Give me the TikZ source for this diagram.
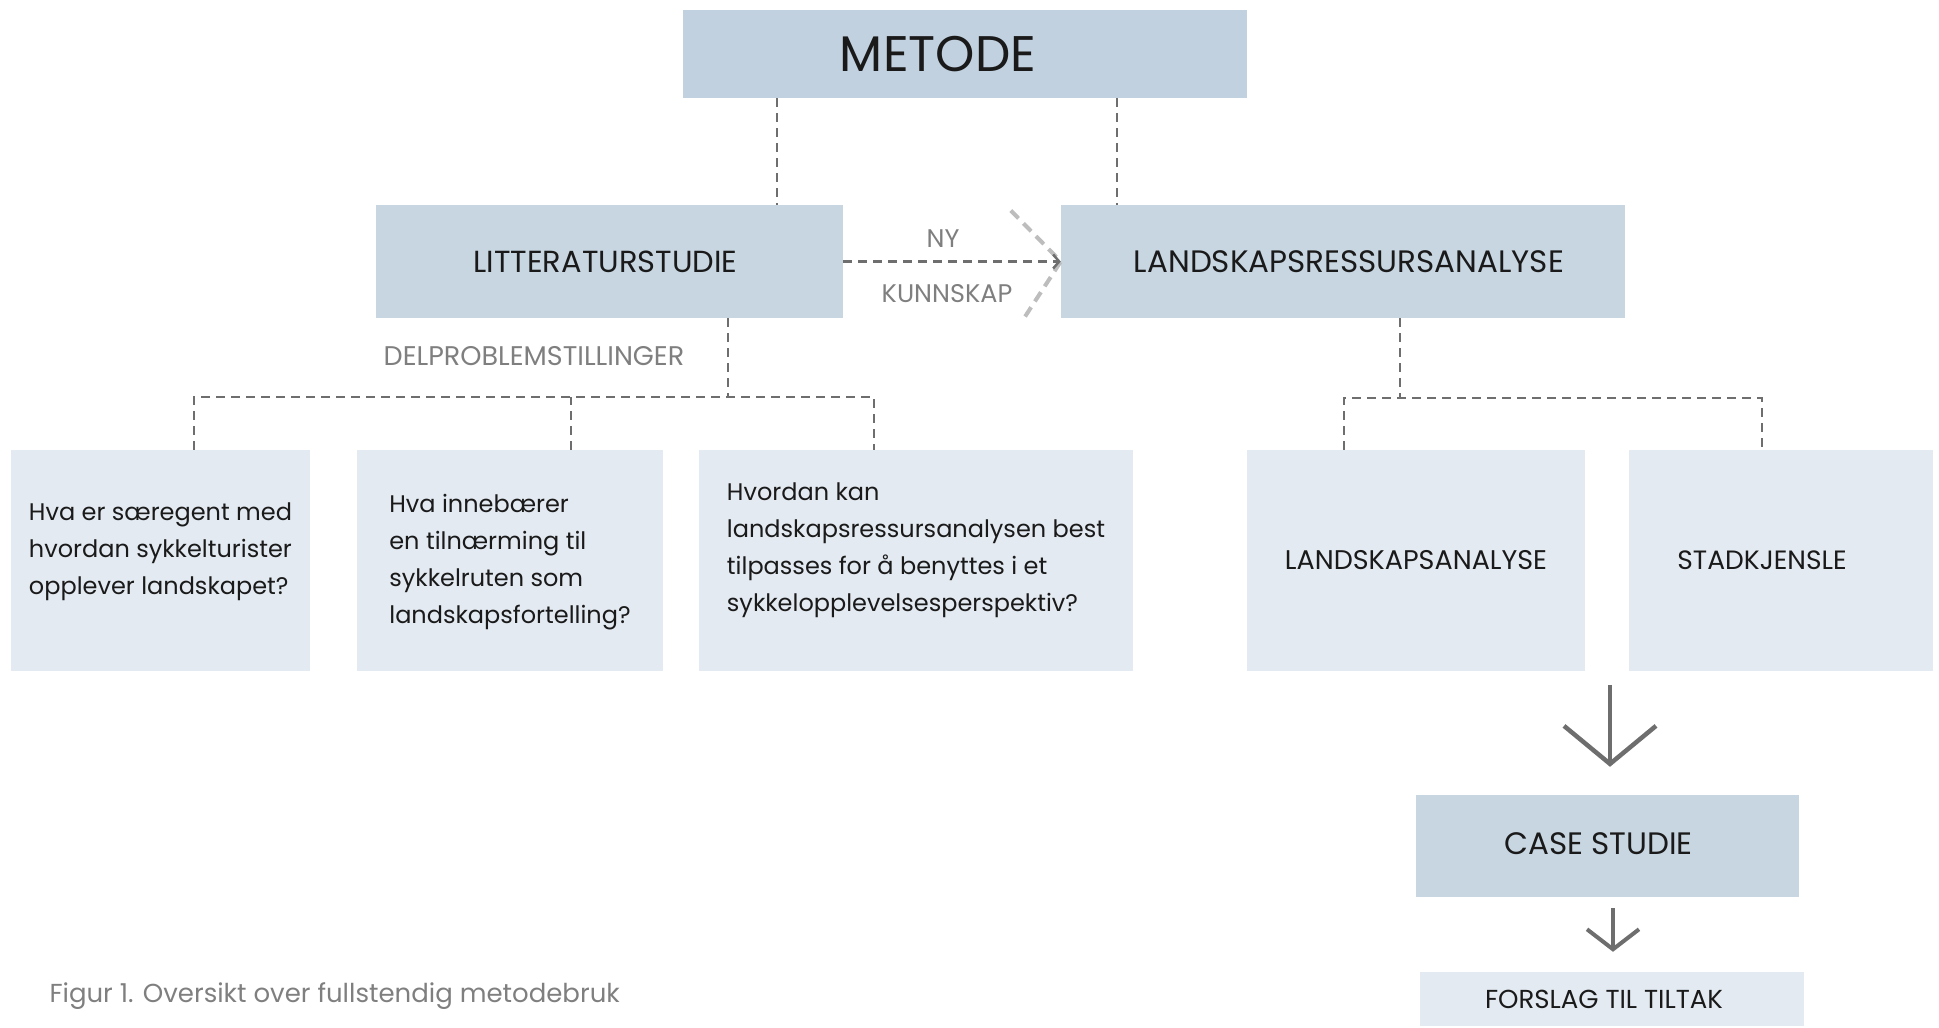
\documentclass[tikz,border=0pt]{standalone}
\usepackage{fontspec}
\setmainfont{Poppins}
\usepackage{tikz}
\usetikzlibrary{calc,arrows.meta}
\definecolor{headblue}{HTML}{C1D1E0}
\definecolor{boxblue}{HTML}{C8D6E2}
\definecolor{boxpale}{HTML}{E3EAF1}
\definecolor{linegray}{HTML}{6E6E6E}
\definecolor{chevgray}{HTML}{BDBDBD}
\definecolor{labelgray}{HTML}{7F7F7F}
\definecolor{textdark}{HTML}{1A1A1A}
% lines of a question box, raised by #1
\newcommand{\qlines}[2]{\raisebox{#1}[0pt][0pt]{\begin{tabular}{@{}l@{}}#2\end{tabular}}}

\begin{document}
\begin{tikzpicture}[x=1pt,y=-1pt,
    box/.style={fill=boxblue, inner sep=0pt, text=textdark},
    qbox/.style={fill=boxpale, inner sep=0pt, minimum height=221pt,
        text=textdark, font=\fontsize{24}{37}\selectfont},
    dashline/.style={linegray, line width=2.5pt, dash pattern=on 9pt off 6pt},
    bigarrow/.style={linegray, line width=4.5pt, -{Straight Barb[length=38pt,width=92pt]}},
    smallarrow/.style={linegray, line width=4pt, -{Straight Barb[length=20pt,width=52pt]}},
    graytext/.style={text=labelgray, font=\fontsize{25.5}{30}\selectfont}]
\useasboundingbox (0,0) rectangle (1939,1028);

% Top level
\node[box, fill=headblue, minimum width=564pt, minimum height=88pt,
      font=\fontsize{50}{60}\selectfont] (metode) at (965,54) {METODE\hspace*{54pt}};

% Second level
\node[box, minimum width=467pt, minimum height=113pt,
      font=\fontsize{30.5}{36}\selectfont] (litt) at (609.5,261.5) {LITTERATURSTUDIE\hspace*{8pt}};
\node[box, minimum width=564pt, minimum height=113pt,
      font=\fontsize{31}{36}\selectfont] (land) at (1343,261.5) {\hspace*{12pt}LANDSKAPSRESSURSANALYSE};

% Sub questions
\node[qbox, minimum width=299pt] (q1) at (160.5,560.5)
    {\qlines{4pt}{Hva er særegent med\\hvordan sykkelturister\\opplever landskapet?}};
\node[qbox, minimum width=306pt] (q2) at (510,560.5)
    {\qlines{-6pt}{Hva innebærer\\en tilnærming til\\sykkelruten som\\landskapsfortelling?}};
\node[qbox, minimum width=434pt] (q3) at (916,560.5)
    {\qlines{6pt}{Hvordan kan\\landskapsressursanalysen best\\tilpasses for å benyttes i et\\sykkelopplevelsesperspektiv?}};

% Analysis parts
\node[qbox, minimum width=338pt, font=\fontsize{27}{32}\selectfont] (ana) at (1416,560.5) {LANDSKAPSANALYSE};
\node[qbox, minimum width=304pt, font=\fontsize{26.5}{32}\selectfont] (stad) at (1781,560.5) {STADKJENSLE\hspace*{38pt}};

% Case and result
\node[box, minimum width=383pt, minimum height=102pt,
      font=\fontsize{31}{36}\selectfont] (case) at (1607.5,846) {\raisebox{5pt}{CASE STUDIE}\hspace*{18pt}};
\node[box, fill=boxpale, minimum width=384pt, minimum height=54pt,
      font=\fontsize{26}{30}\selectfont] (tiltak) at (1612,999) {FORSLAG TIL TILTAK\hspace*{16pt}};

% Labels
\node[graytext] (ny) at (943,239) {NY};
\node[graytext] (kunnskap) at (947,294) {KUNNSKAP};
\node[graytext, font=\fontsize{27}{32}\selectfont] (delprob) at (534,356) {DELPROBLEMSTILLINGER};
\node[graytext, anchor=west, font=\fontsize{26}{30}\selectfont] (caption) at (46,996)
    {Figur 1. Oversikt over fullstendig metodebruk};

% Dashed connectors from METODE
\draw[dashline] ([xshift=-188pt]metode.south) -- ([xshift=-188pt]metode.south |- litt.north);
\draw[dashline] ([xshift=152pt]metode.south) -- ([xshift=152pt]metode.south |- land.north);

% NY KUNNSKAP arrow
\draw[chevgray, line width=4pt, dash pattern=on 11pt off 7pt]
    ([shift={(-50,-51)}]land.west) -- (land.west) -- ([shift={(-37,57)}]land.west);
\draw[dashline, -{Straight Barb[length=6pt,width=14pt]}] (litt.east) -- (land.west);

% Tree under LITTERATURSTUDIE
\coordinate (split1) at ([xshift=118.5pt]litt.south |- 0,397);
\draw[dashline] ([xshift=118.5pt]litt.south) -- (split1);
\draw[dashline] ([xshift=33.5pt]q1.north) |- (split1) -| ([xshift=-42pt]q3.north);
\draw[dashline] ([xshift=61pt]q2.north) -- ([xshift=61pt]q2.north |- split1);

% Tree under LANDSKAPSRESSURSANALYSE
\coordinate (split2) at ([xshift=57pt]land.south |- 0,398);
\draw[dashline] ([xshift=57pt]land.south) -- (split2);
\draw[dashline] ([xshift=-72pt]ana.north) |- (split2) -| ([xshift=-19pt]stad.north);

% Arrows down
\draw[bigarrow] ([shift={(2.5,-110)}]case.north) -- ([shift={(2.5,-28)}]case.north);
\draw[smallarrow] ([shift={(5.5,11)}]case.south) -- ([shift={(1,-20)}]tiltak.north);
\end{tikzpicture}
\end{document}
